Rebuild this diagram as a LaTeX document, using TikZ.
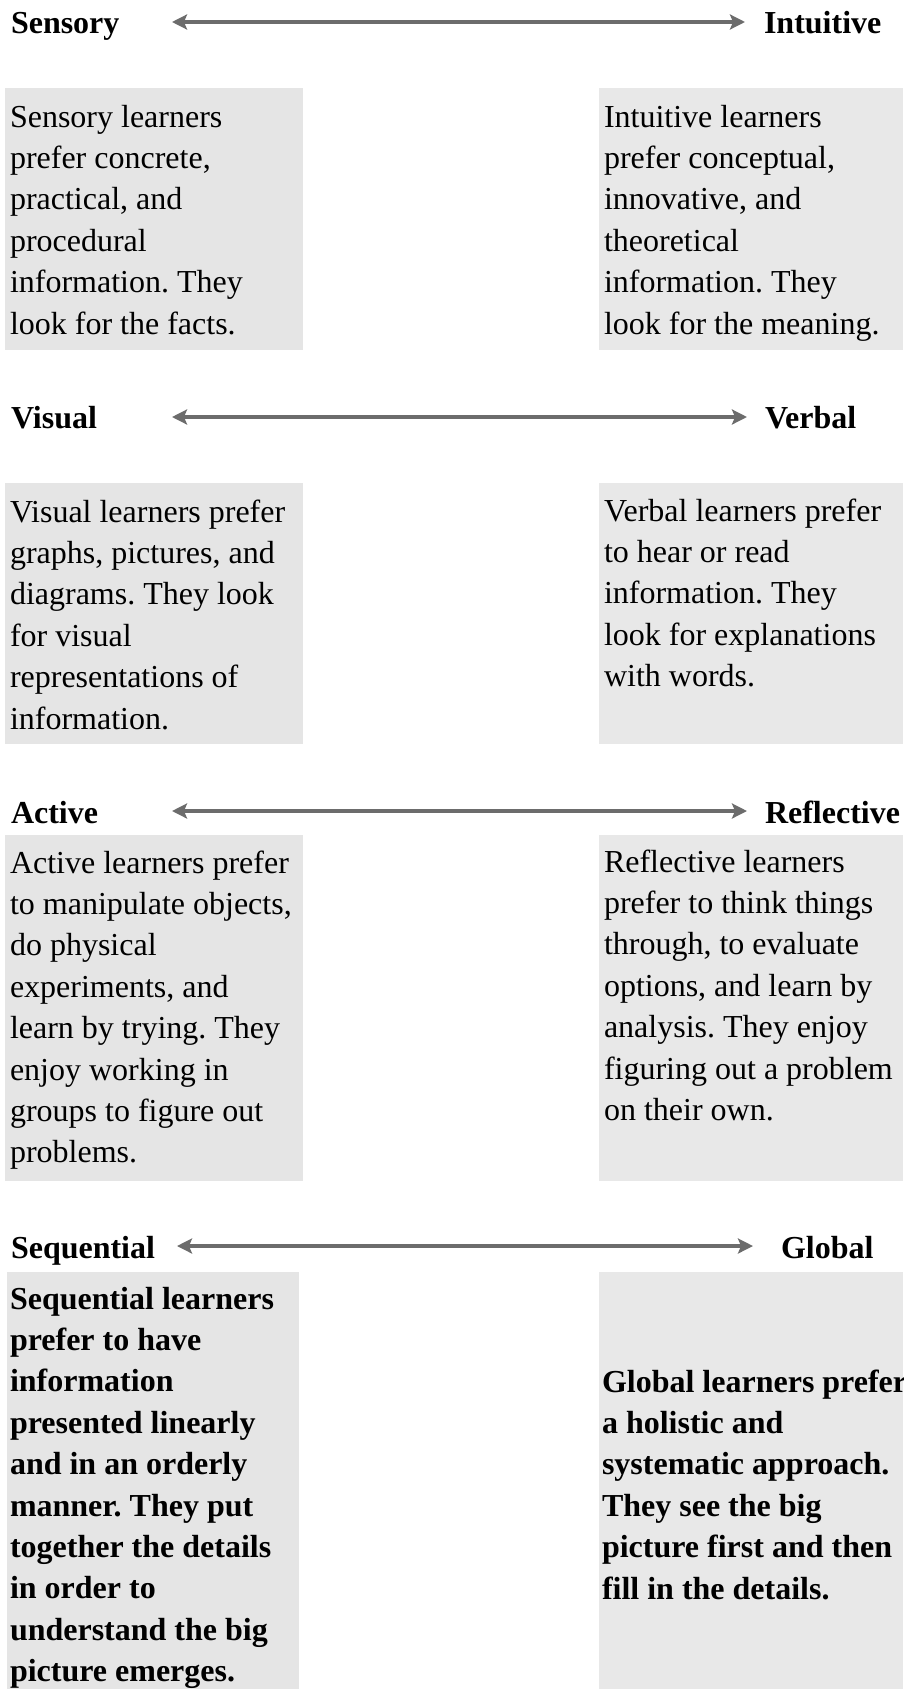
\documentclass[tikz,border=0pt]{standalone}
\usepackage{fontspec}
\setmainfont{Liberation Serif}
\usetikzlibrary{arrows.meta}
\definecolor{panelL}{RGB}{229,229,229}
\definecolor{panelR}{RGB}{232,232,232}
\definecolor{axisgray}{RGB}{108,108,108}
\frenchspacing
\begin{document}
\begin{tikzpicture}[x=1pt,y=-1pt,
  every node/.style={inner sep=0pt, outer sep=0pt, anchor=base west},
  pole/.style={font=\fontsize{32}{41.4}\selectfont\bfseries},
  desc/.style={font=\fontsize{32}{41.4}\selectfont},
  descbold/.style={font=\fontsize{32}{41.4}\selectfont\bfseries},
  panelleft/.style={fill=panelL},
  panelright/.style={fill=panelR},
  dimaxis/.style={draw=axisgray, line width=3.6pt,
    {Stealth[length=15pt,width=15pt,inset=3pt]}-{Stealth[length=15pt,width=15pt,inset=3pt]}}
]
\newcommand{\lines}[1]{\parbox[t]{420pt}{#1}}
\useasboundingbox (0,0) rectangle (903,1689);
\clip (0,0) rectangle (903,1689);

% ---------- Sensory / Intuitive ----------
\node[pole] (sens) at (11,33) {Sensory};
\node[pole] (intu) at (764,33) {Intuitive};
\coordinate (sensL) at (172,22);
\coordinate (intuR) at (745,22);
\draw[dimaxis] (sensL) -- (intuR);
\path[panelleft] (5,88) rectangle (303,350);
\path[panelright] (599,88) rectangle (903,350);
\node[desc] (sensText) at (10,127) {\lines{Sensory learners\\prefer concrete,\\practical, and\\procedural\\information. They\\look for the facts.}};
\node[desc] (intuText) at (604,127) {\lines{Intuitive learners\\prefer conceptual,\\innovative, and\\theoretical\\information. They\\look for the meaning.}};

% ---------- Visual / Verbal ----------
\node[pole] (visu) at (11,428) {Visual};
\node[pole] (verb) at (765,428) {Verbal};
\coordinate (visuL) at (172,417);
\coordinate (verbR) at (747,417);
\draw[dimaxis] (visuL) -- (verbR);
\path[panelleft] (5,483) rectangle (303,744);
\path[panelright] (599,483) rectangle (903,744);
\node[desc] (visuText) at (10,522) {\lines{Visual learners prefer\\graphs, pictures, and\\diagrams. They look\\for visual\\representations of\\information.}};
\node[desc] (verbText) at (604,521) {\lines{Verbal learners prefer\\to hear or read\\information. They\\look for explanations\\with words.}};

% ---------- Active / Reflective ----------
\node[pole] (acti) at (11,823) {Active};
\node[pole] (refl) at (765,823) {Reflective};
\coordinate (actiL) at (172,811);
\coordinate (reflR) at (747,811);
\draw[dimaxis] (actiL) -- (reflR);
\path[panelleft] (5,835) rectangle (303,1181);
\path[panelright] (599,835) rectangle (903,1181);
\node[desc] (actiText) at (10,873) {\lines{Active learners prefer\\to manipulate objects,\\do physical\\experiments, and\\learn by trying. They\\enjoy working in\\groups to figure out\\problems.}};
\node[desc] (reflText) at (604,872) {\lines{Reflective learners\\prefer to think things\\through, to evaluate\\options, and learn by\\analysis. They enjoy\\figuring out a problem\\on their own.}};

% ---------- Sequential / Global ----------
\node[pole] (sequ) at (11,1258) {Sequential};
\node[pole] (glob) at (781,1258) {Global};
\coordinate (sequL) at (177,1246);
\coordinate (globR) at (753,1246);
\draw[dimaxis] (sequL) -- (globR);
\path[panelleft] (7,1272) rectangle (299,1689);
\path[panelright] (599,1272) rectangle (903,1689);
\node[descbold] (sequText) at (10,1309) {\lines{Sequential learners\\prefer to have\\information\\presented linearly\\and in an orderly\\manner. They put\\together the details\\in order to\\understand the big\\picture emerges.}};
\node[descbold] (globText) at (602,1392) {\lines{Global learners prefer\\a holistic and\\systematic approach.\\They see the big\\picture first and then\\fill in the details.}};
\end{tikzpicture}
\end{document}
